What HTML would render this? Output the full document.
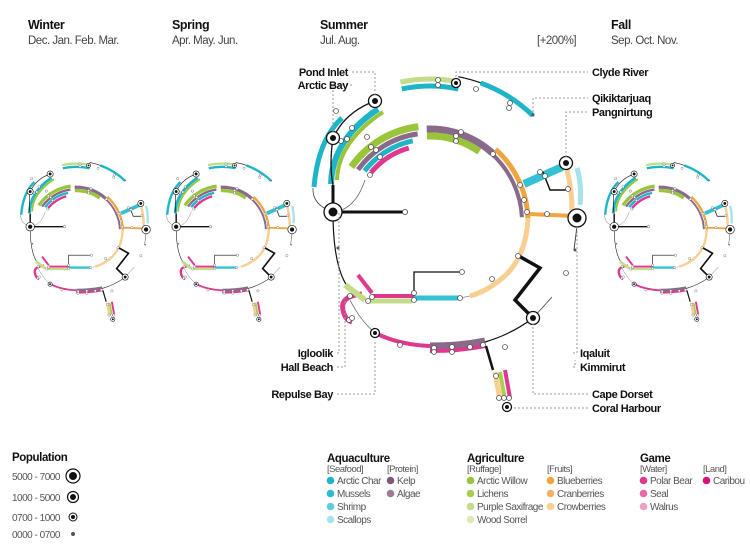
<!DOCTYPE html>
<html><head><meta charset="utf-8">
<style>
html,body{margin:0;padding:0;background:#fff;}
body{width:750px;height:544px;overflow:hidden;font-family:"Liberation Sans",sans-serif;}
svg{display:block}
text{font-family:"Liberation Sans",sans-serif;}
.h{font-weight:bold;font-size:12.5px;fill:#111;letter-spacing:-0.4px}
.s{font-size:11.5px;fill:#444;letter-spacing:-0.5px}
.l{font-weight:bold;font-size:11px;fill:#111;letter-spacing:-0.4px}
.g{font-size:9.5px;fill:#555;letter-spacing:-0.5px}
.lt{font-size:10px;fill:#555;letter-spacing:-0.5px}
</style></head><body>
<svg id="svg" width="750" height="544" viewBox="0 0 750 544" xmlns="http://www.w3.org/2000/svg">
<g id="main"></g>
<use href="#main" transform="translate(-128,126) scale(0.475)"/>
<use href="#main" transform="translate(18,126) scale(0.475)"/>
<use href="#main" transform="translate(456,126) scale(0.475)"/>

<text class="h" x="28" y="29">Winter</text><text class="s" x="28" y="44">Dec. Jan. Feb. Mar.</text>
<text class="h" x="172" y="29">Spring</text><text class="s" x="172" y="44">Apr. May. Jun.</text>
<text class="h" x="320" y="29">Summer</text><text class="s" x="320" y="44">Jul. Aug.</text>
<text class="s" x="537" y="44">[+200%]</text>
<text class="h" x="611" y="29">Fall</text><text class="s" x="611" y="44">Sep. Oct. Nov.</text>

<g stroke="#999" stroke-width="1" stroke-dasharray="2,2" fill="none">
<path d="M352 72H375V95"/><path d="M352 85H333V132"/>
<path d="M456 77V72H588"/><path d="M533 112V98H588"/><path d="M566 157V112H588"/>
<path d="M337 353H339V212"/><path d="M337 367H345V300"/>
<path d="M337 394H375V340"/>
<path d="M573 353H577V225"/><path d="M573 367H575V360"/>
<path d="M588 394H533V324"/><path d="M588 408H513"/>
</g>
<g text-anchor="end">
<text class="l" x="348" y="76">Pond Inlet</text><text class="l" x="348" y="89">Arctic Bay</text>
<text class="l" x="333" y="357">Igloolik</text><text class="l" x="333" y="371">Hall Beach</text>
<text class="l" x="333" y="398">Repulse Bay</text>
</g>
<text class="l" x="592" y="76">Clyde River</text><text class="l" x="592" y="102">Qikiktarjuaq</text><text class="l" x="592" y="116">Pangnirtung</text>
<text class="l" x="580" y="357">Iqaluit</text><text class="l" x="580" y="371">Kimmirut</text>
<text class="l" x="592" y="398">Cape Dorset</text><text class="l" x="592" y="412">Coral Harbour</text>

<text class="h" x="12" y="461" style="font-size:11.5px">Population</text>
<text class="lt" x="12" y="480">5000 - 7000</text><text class="lt" x="12" y="501">1000 - 5000</text>
<text class="lt" x="12" y="521">0700 - 1000</text><text class="lt" x="12" y="538">0000 - 0700</text>
<circle cx="73" cy="476" r="7" fill="#fff" stroke="#111" stroke-width="1.2"/><circle cx="73" cy="476" r="4" fill="#111"/>
<circle cx="73" cy="497" r="5.5" fill="#fff" stroke="#111" stroke-width="1.2"/><circle cx="73" cy="497" r="3" fill="#111"/>
<circle cx="73" cy="517" r="4" fill="#fff" stroke="#111" stroke-width="1"/><circle cx="73" cy="517" r="2" fill="#111"/>
<circle cx="73" cy="534" r="2" fill="#555"/>

<text class="h" x="327" y="462" style="font-size:11.5px">Aquaculture</text>
<text class="g" x="327" y="472">[Seafood]</text><text class="g" x="387" y="472">[Protein]</text>
<text class="h" x="467" y="462" style="font-size:11.5px">Agriculture</text>
<text class="g" x="467" y="472">[Ruffage]</text><text class="g" x="547" y="472">[Fruits]</text>
<text class="h" x="640" y="462" style="font-size:11.5px">Game</text>
<text class="g" x="640" y="472">[Water]</text><text class="g" x="703" y="472">[Land]</text>
<g id="leg"></g>
</svg>
<script>
var NS="http://www.w3.org/2000/svg",M=document.getElementById('main'),CX=430,CY=222;
function el(t,at,p){var e=document.createElementNS(NS,t);for(var k in at)e.setAttribute(k,at[k]);(p||M).appendChild(e);return e;}
function pt(r,a){a=a*Math.PI/180;return [CX+r*Math.cos(a),CY+r*Math.sin(a)];}
function A(r,a0,a1,c,w){var p=pt(r,a0),q=pt(r,a1),lg=Math.abs(a1-a0)>180?1:0,sw=a1>a0?1:0;
 el('path',{d:'M'+p[0]+' '+p[1]+'A'+r+' '+r+' 0 '+lg+' '+sw+' '+q[0]+' '+q[1],fill:'none',stroke:c,'stroke-width':w});}
function L(d,c,w){el('path',{d:d,fill:'none',stroke:c,'stroke-width':w,'stroke-linejoin':'miter'});}
function D(x,y){el('circle',{cx:x,cy:y,r:2.5,fill:'#fff',stroke:'#555','stroke-width':0.8});}
function N(x,y,s){var R=[0,2.2,4.5,6.5,9][s],r=[0,1.5,2,3,4.5][s];
 if(s>1)el('circle',{cx:x,cy:y,r:R,fill:'#fff',stroke:'#111','stroke-width':1.3});el('circle',{cx:x,cy:y,r:r,fill:s==1?'#555':'#111'});}
var cy='#1fb5c9',pu='#8a6a8a',gr='#9ac43a',gr2='#c3dc8a',or='#f0a640',or2='#f8cf90',mg='#e0378f';
// outer top-left
L('M314 187 Q318 140 342 118','#1fb5c9',5);
L('M331 184 Q332 140 378 109','#1fb5c9',6);L('M337 180 Q338 142 383 112','#9ac43a',4);
L('M375 101 Q345 112 333 138 Q329 165 333 185','#111',1.3);L('M333 185 L333 212','#111',3);
L('M333 212 Q312 205 313 188','#444',0.8);
// inner upper-left group
A(96,215,263,gr,7);A(89,216,262,pu,5);A(83,218,258,cy,5);A(77,220,254,mg,5);
L('M333 212 Q355 210 365 180','#666',0.8);
// top rings
A(93,268,312,pu,7);A(86,268,305,gr,7);
A(98,312,359,or,5);A(92,312,357,pu,4);
// top outer
A(143,258,280,gr2,5);A(136,258,282,cy,5);A(148,281,312,'#111',1.2);A(148,290,314,cy,5);
// right cluster
L('M524 184 L562 167','#35c0d3',8);L('M543 172 L550 190 L571 190','#111',1.5);
L('M567 170 Q572 190 572 210','#f8cf90',5);L('M577 168 Q582 185 580 205','#a6e3ed',5);
L('M528 214 L575 216','#f0a640',4);L('M577 226 L574 250','#444',1);
// right lower light-orange
L('M528 218 Q526 260 500 280 Q485 292 470 296','#f8cf90',5);L('M470 296 L460 298','#888',0.8);
L('M517 255 L540 268 L515 300 L533 318','#111',3.5);L('M533 318 L552 297','#444',0.8);
// bottom big arc
L('M333 212 Q333 270 350 290','#111',1.2);
L('M350 300 Q360 320 375 333','#666',0.8);
L('M375 333 Q400 345 430 346','#e0378f',4);
L('M430 346 Q460 346 485 341','#8a6a8a',7);L('M430 351 Q460 351 485 346','#e0378f',4);
L('M485 342 Q512 334 533 318','#111',1.2);
L('M362 294 Q340 296 343 310 Q345 320 352 322','#e0378f',5);
// lower middle bars
L('M345 285 L365 300','#c3dc8a',6);L('M358 275 L372 293','#e0378f',4);
L('M372 296 L414 296','#e0378f',4);L('M368 301 L412 301','#c3dc8a',5);L('M414 298 L460 298','#35c0d3',5);
L('M414 296 L414 272 L462 272','#111',1.3);
// coral bars
L('M486 346 L493 370','#111',2.5);L('M495 372 L500 400','#f8cf90',5);L('M500 372 L505 400','#aacd4e',4);L('M505 370 L510 398','#e0378f',4);
// dots
[[352,128],[367,137],[371,147],[376,150],[380,157],[347,139],[341,141],[336,111],[370,175],[438,80],[438,85],[476,89],[510,103],[509,108],[456,136],[456,141],[461,132],[493,154],[520,185],[524,200],[527,212],[540,172],[545,176],[568,189],[571,215],[547,214],[518,256],[492,279],[460,298],[414,293],[414,300],[462,272],[372,297],[368,301],[350,296],[349,320],[352,318],[400,345],[434,348],[434,352],[452,347],[452,352],[470,347],[483,345],[505,347],[496,376],[499,398],[504,398],[509,398],[566,273],[405,212]].forEach(function(p){D(p[0],p[1])});
L('M405 212 L333 212','#111',3);D(405,212);
N(333,212,4);N(375,101,3);N(333,138,3);N(456,83,2);N(533,115,1);N(566,163,3);N(577,218,4);N(575,250,1);N(533,318,3);N(375,333,2);N(507,407,2);N(338,248,1);
// legend
var G=document.getElementById('leg');
var items=[[327,[['#1fb5c9','Arctic Char'],['#2bbcd0','Mussels'],['#5fcde0','Shrimp'],['#a6e3ed','Scallops']]],
[387,[['#7c5a7c','Kelp'],['#9b7a9b','Algae']]],
[467,[['#9ac43a','Arctic Willow'],['#aacd4e','Lichens'],['#c3dc8a','Purple Saxifrage'],['#dbe9b5','Wood Sorrel']]],
[547,[['#f0a640','Blueberries'],['#f3b261','Cranberries'],['#f8cf90','Crowberries']]],
[640,[['#e0378f','Polar Bear'],['#e868a8','Seal'],['#f0a0c8','Walrus']]],
[703,[['#d9107b','Caribou']]]];
items.forEach(function(g){g[1].forEach(function(it,i){var y=484+i*13;
 el('circle',{cx:g[0]+3.5,cy:y-3.5,r:3.8,fill:it[0]},G);var t=el('text',{x:g[0]+10,y:y,'class':'lt'},G);t.textContent=it[1];});});
</script>
</body></html>
